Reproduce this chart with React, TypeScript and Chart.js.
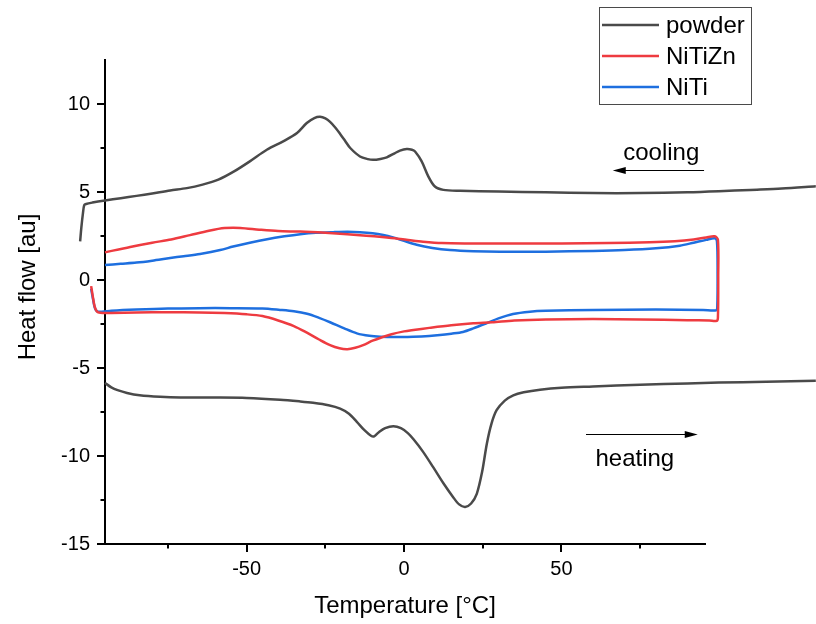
import { useEffect, useRef } from 'react';
import { Chart, registerables } from 'chart.js';

Chart.register(...registerables);

const FONT = '"Liberation Sans", Arial, Helvetica, sans-serif';

// Axis ranges and tick values
const xRange = [-95, 95.6];
const yRange = [-15, 12.5];
const xMajorTicks = [-50, 0, 50];
const xMinorTicks = [-75, -25, 25, 75];
const yMajorTicks = [-15, -10, -5, 0, 5, 10];
const yMinorTicks = [-12.5, -7.5, -2.5, 2.5, 7.5];

// Series names and colours
const seriesNames = ['powder', 'NiTiZn', 'NiTi'];
const seriesColors = ['#4a4a4a', '#ee3b40', '#1e6fdf'];

// powder, cooling run (temperature °C, heat flow au)
const powderCoolT = [-102.9, -102.5, -102.0, -101.6, -101.0, -99, -95, -90, -85, -80, -74.3, -69, -64, -59, -54, -49, -43.6, -38.4, -34, -30.9, -28.5, -26.7, -25, -23.5, -21.8, -20.3, -18.7, -17.1, -14, -11.5, -9.8, -7.5, -5.5, -3, -1.3, 0.85, 2.5, 3.5, 5.6, 7.7, 9.8, 12.5, 17.8, 30, 45, 60, 75, 90, 100, 110, 120, 130.8];
const powderCoolHF = [2.2, 3.0, 3.8, 4.25, 4.32, 4.4, 4.52, 4.65, 4.78, 4.92, 5.09, 5.22, 5.42, 5.7, 6.17, 6.74, 7.4, 7.88, 8.35, 8.92, 9.2, 9.27, 9.18, 8.98, 8.65, 8.3, 7.9, 7.5, 7.02, 6.87, 6.83, 6.88, 6.97, 7.2, 7.35, 7.44, 7.4, 7.3, 6.74, 5.89, 5.31, 5.12, 5.07, 5.03, 4.98, 4.94, 4.94, 4.98, 5.04, 5.12, 5.2, 5.33];

// powder, heating run
const powderHeatT = [-95, -93, -91, -88, -84, -77.5, -71, -60, -50, -39.4, -33, -28.9, -24, -20.3, -17.5, -15, -12.5, -10.5, -9.5, -8, -6, -3.4, -1, 1.2, 3, 6, 9.3, 12.5, 15.6, 17.5, 19.4, 21.3, 23.1, 24.8, 26.3, 27.8, 29.4, 32, 34.7, 38, 43.2, 50, 60, 75, 90, 100, 115, 130.8];
const powderHeatHF = [-5.85, -6.1, -6.26, -6.42, -6.55, -6.64, -6.68, -6.68, -6.7, -6.8, -6.9, -6.98, -7.12, -7.31, -7.6, -8.06, -8.55, -8.85, -8.88, -8.65, -8.42, -8.31, -8.42, -8.7, -9.05, -9.75, -10.65, -11.55, -12.34, -12.75, -12.9, -12.7, -12.15, -10.9, -9.3, -8.15, -7.4, -6.85, -6.55, -6.38, -6.23, -6.12, -6.05, -5.95, -5.88, -5.83, -5.78, -5.73];

// NiTiZn, heating run
const nitiznHeatT = [-99.4, -98.9, -98.3, -97.6, -96.5, -93, -85, -75, -65, -57, -50, -45, -40, -35, -31, -27, -23.5, -20.5, -18, -15.5, -13, -10, -7, -4, 0, 3, 8, 15, 22, 28, 35, 45, 60, 75, 90, 97, 99.3];
const nitiznHeatHF = [-0.35, -0.9, -1.5, -1.78, -1.86, -1.87, -1.85, -1.83, -1.84, -1.88, -1.95, -2.05, -2.3, -2.62, -2.98, -3.38, -3.7, -3.88, -3.93, -3.85, -3.7, -3.45, -3.25, -3.08, -2.92, -2.84, -2.72, -2.57, -2.46, -2.4, -2.3, -2.24, -2.22, -2.24, -2.28, -2.3, -2.32];

// NiTiZn, cooling run (from the hot end back down)
const nitiznCoolT = [99.7, 99.8, 99.7, 98.7, 96, 92, 86, 78, 65, 50, 35, 20, 12, 6, 2, -2, -7, -12, -18, -25, -33, -40, -46, -52, -57, -62, -68, -74, -80, -87, -95];
const nitiznCoolHF = [-2.15, 0.2, 2.3, 2.48, 2.42, 2.3, 2.2, 2.14, 2.1, 2.08, 2.08, 2.08, 2.1, 2.18, 2.26, 2.35, 2.44, 2.52, 2.6, 2.68, 2.75, 2.78, 2.86, 2.96, 2.95, 2.8, 2.55, 2.3, 2.12, 1.88, 1.57];

// NiTi, heating run
const nitiHeatT = [-99.4, -98.8, -98.2, -97.5, -96, -93, -85, -75, -65, -55, -45, -39.4, -35, -30.8, -27, -23.5, -19, -15, -11, -7.6, -3, 2.9, 8, 11.4, 15, 18.7, 22, 26.3, 30, 34.6, 40, 45, 60, 80, 95, 99.2];
const nitiHeatHF = [-0.5, -1.1, -1.6, -1.78, -1.8, -1.75, -1.68, -1.62, -1.6, -1.6, -1.62, -1.7, -1.78, -1.92, -2.15, -2.4, -2.75, -3.03, -3.17, -3.22, -3.24, -3.22, -3.18, -3.13, -3.05, -2.95, -2.75, -2.45, -2.18, -1.93, -1.8, -1.75, -1.7, -1.68, -1.7, -1.72];

// NiTi, cooling run
const nitiCoolT = [99.5, 99.6, 99.4, 98.7, 96, 92, 87.6, 80, 70, 60, 45, 30.5, 22, 14.6, 9, 4, 0, -3.5, -6.6, -10, -14, -18, -22.5, -28, -33, -38, -43.5, -49, -54.3, -58.4, -64.8, -70, -74.3, -80, -85, -90, -95];
const nitiCoolHF = [-1.55, 0.4, 2.2, 2.37, 2.28, 2.12, 1.95, 1.8, 1.7, 1.65, 1.61, 1.6, 1.63, 1.7, 1.82, 2.0, 2.22, 2.42, 2.56, 2.66, 2.72, 2.74, 2.72, 2.68, 2.6, 2.48, 2.32, 2.12, 1.9, 1.7, 1.48, 1.35, 1.25, 1.1, 0.99, 0.92, 0.85];

const zip = (ts: number[], hs: number[]) => ts.map((t, i) => ({ x: t, y: hs[i] }));

// Tick marks (major long, minor short) plus titles, legend and run-direction notes
const decorations = {
  id: 'decorations',
  afterDraw(chart: any) {
    const { ctx, scales } = chart;
    const xs = scales.x;
    const ys = scales.y;
    const area = chart.chartArea;
    ctx.save();
    ctx.strokeStyle = '#000';
    ctx.lineWidth = 2;
    const tick = (x1: number, y1: number, x2: number, y2: number) => {
      ctx.beginPath();
      ctx.moveTo(x1, y1);
      ctx.lineTo(x2, y2);
      ctx.stroke();
    };
    xMajorTicks.forEach((v) => { const p = Math.round(xs.getPixelForValue(v)); tick(p, area.bottom, p, area.bottom + 8); });
    xMinorTicks.forEach((v) => { const p = Math.round(xs.getPixelForValue(v)); tick(p, area.bottom, p, area.bottom + 4.5); });
    yMajorTicks.forEach((v) => { const p = Math.round(ys.getPixelForValue(v)); tick(area.left, p, area.left - 8, p); });
    yMinorTicks.forEach((v) => { const p = Math.round(ys.getPixelForValue(v)); tick(area.left, p, area.left - 4.5, p); });

    // axis titles
    ctx.fillStyle = '#000';
    ctx.font = `24px ${FONT}`;
    ctx.textAlign = 'center';
    ctx.textBaseline = 'middle';
    ctx.fillText('Temperature [°C]', (area.left + area.right) / 2, 606);
    ctx.save();
    ctx.translate(28, 287);
    ctx.rotate(-Math.PI / 2);
    ctx.fillText('Heat flow [au]', 0, 0);
    ctx.restore();

    // legend
    ctx.strokeStyle = '#4a4a4a';
    ctx.lineWidth = 1;
    ctx.strokeRect(599.5, 7.5, 152, 97);
    ctx.textAlign = 'left';
    ctx.font = `24px ${FONT}`;
    seriesNames.forEach((name, i) => {
      const y = 25 + i * 31;
      ctx.strokeStyle = seriesColors[i];
      ctx.lineWidth = 2.5;
      ctx.beginPath();
      ctx.moveTo(602, y);
      ctx.lineTo(659, y);
      ctx.stroke();
      ctx.fillStyle = '#000';
      ctx.fillText(name, 666, y + 1);
    });

    // run-direction notes
    const arrow = (fromT: number, toT: number, hf: number) => {
      const y = Math.round(ys.getPixelForValue(hf)) + 0.5;
      const x1 = xs.getPixelForValue(fromT);
      const x2 = xs.getPixelForValue(toT);
      const dir = Math.sign(x2 - x1);
      ctx.strokeStyle = '#000';
      ctx.fillStyle = '#000';
      ctx.lineWidth = 1.2;
      ctx.beginPath();
      ctx.moveTo(x1, y);
      ctx.lineTo(x2 - dir * 8, y);
      ctx.stroke();
      ctx.beginPath();
      ctx.moveTo(x2, y);
      ctx.lineTo(x2 - dir * 13, y - 3.5);
      ctx.lineTo(x2 - dir * 13, y + 3.5);
      ctx.closePath();
      ctx.fill();
    };
    arrow(95.3, 66.3, 6.25);
    arrow(57.8, 93.3, -8.77);
    ctx.fillStyle = '#000';
    ctx.textAlign = 'center';
    ctx.fillText('cooling', xs.getPixelForValue(81.7), ys.getPixelForValue(7.22));
    ctx.fillText('heating', xs.getPixelForValue(73.3), ys.getPixelForValue(-10.2));
    ctx.restore();
  },
};

export default function App() {
  const ref = useRef<HTMLCanvasElement | null>(null);

  useEffect(() => {
    if (!ref.current) return;
    const line = (label: string, color: string, data: { x: number; y: number }[]) => ({
      label,
      data,
      borderColor: color,
      backgroundColor: color,
      borderWidth: 2.5,
      pointRadius: 0,
      tension: 0.3,
      clip: false as const,
      fill: false,
    });
    const chart = new Chart(ref.current, {
      type: 'line',
      data: {
        datasets: [
          line(seriesNames[0], seriesColors[0], zip(powderCoolT, powderCoolHF)),
          line(seriesNames[0], seriesColors[0], zip(powderHeatT, powderHeatHF)),
          line(seriesNames[1], seriesColors[1], zip(nitiznHeatT, nitiznHeatHF).concat(zip(nitiznCoolT, nitiznCoolHF))),
          line(seriesNames[2], seriesColors[2], zip(nitiHeatT, nitiHeatHF).concat(zip(nitiCoolT, nitiCoolHF))),
        ],
      },
      options: {
        animation: false,
        responsive: false,
        events: [],
        layout: { padding: { left: 0, right: 111, top: 60, bottom: 0 } },
        elements: { line: { capBezierPoints: false }, point: { radius: 0 } },
        plugins: { legend: { display: false }, tooltip: { enabled: false }, title: { display: false } },
        scales: {
          x: {
            type: 'linear',
            bounds: 'data',
            // range set after the data limits so that the traces running past the axis ends are still drawn
            afterDataLimits: (s: any) => { s.min = xRange[0]; s.max = xRange[1]; },
            afterFit: (s: any) => { s.height = 80; },
            afterBuildTicks: (s: any) => {
              s.ticks = [...xMinorTicks, ...xMajorTicks].sort((a, b) => a - b).map((v) => ({ value: v }));
              s.min = xRange[0];
              s.max = xRange[1];
            },
            ticks: {
              autoSkip: false,
              maxRotation: 0,
              padding: 13,
              color: '#000',
              font: { family: FONT, size: 20 },
              callback: (v: any) => (xMajorTicks.includes(Number(v)) ? String(v) : ''),
            },
            grid: { display: false, drawTicks: false },
            border: { display: true, color: '#000', width: 2 },
          },
          y: {
            type: 'linear',
            bounds: 'data',
            afterDataLimits: (s: any) => { s.min = yRange[0]; s.max = yRange[1]; },
            afterFit: (s: any) => { s.width = 105; },
            afterBuildTicks: (s: any) => {
              s.ticks = [...yMinorTicks, ...yMajorTicks].sort((a, b) => a - b).map((v) => ({ value: v }));
              s.min = yRange[0];
              s.max = yRange[1];
            },
            ticks: {
              autoSkip: false,
              padding: 15,
              color: '#000',
              font: { family: FONT, size: 20 },
              callback: (v: any) => (yMajorTicks.includes(Number(v)) ? String(v) : ''),
            },
            grid: { display: false, drawTicks: false },
            border: { display: true, color: '#000', width: 2 },
          },
        },
      },
      plugins: [decorations],
    });
    return () => chart.destroy();
  }, []);

  return (
    <div style={{ position: 'fixed', left: 0, top: 0, width: 816, height: 624, background: '#fff' }}>
      <canvas ref={ref} width={816} height={624} />
    </div>
  );
}
